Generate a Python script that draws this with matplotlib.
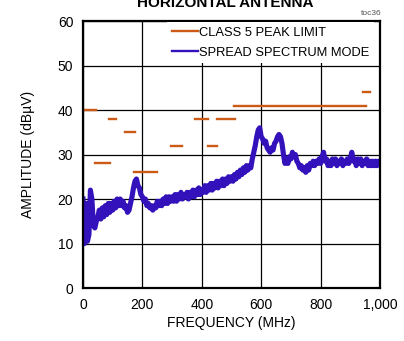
import matplotlib
matplotlib.use("Agg")
import matplotlib.pyplot as plt

# spread spectrum trace, read every 5 MHz from 0 to 1000
amp = [20, 10, 19, 10.5, 12, 22, 20, 14, 13.5, 15,
       16, 17.5, 15.5, 18, 16, 18.5, 16.5, 19, 17, 19, 17.5, 19.5, 18, 20, 18.5, 20, 18.5, 19.5, 18, 18.5,
       17, 17.5, 19, 20.5, 22.5, 24, 24.5, 23, 22.5, 21, 20.5, 19.5, 20, 18.5, 19, 18, 18.5, 17.5, 18.5, 18,
       19.5, 18.5, 19.5, 18.5, 20, 19, 20.5, 19, 20.5, 19.5, 20.5, 19.5, 21, 19.5, 21, 20, 21.5, 20, 21, 20.5,
       21.5, 20, 21.5, 20.5, 22, 20.5, 22, 21, 22.5, 21, 22, 21.5, 23, 21.5, 23, 22, 23.5, 22, 23.5, 22.5,
       24, 22.5, 24, 23, 24.5, 23, 24.5, 23.5, 25, 24, 25, 24, 25.5, 24.5, 26, 25, 26.5, 25.5, 27, 26,
       27.5, 26.5, 27.5, 27, 29, 30.5, 32, 34, 35.5, 36, 34, 33.5, 32.5, 33, 31.5, 31, 30.5, 31.5, 31, 32.5,
       33, 34, 34.5, 34, 32.5, 30, 28, 29, 28, 29.5,
       29, 30.5, 29.5, 30, 28.5, 28, 27, 27.5, 26.5, 27, 26, 27.5, 26.5, 28, 27.5, 28.5, 27.5, 28.5, 28, 29,
       28, 29.5, 30.5, 28.5, 29, 27.5, 28.5, 27.5, 29, 28, 29, 27.5, 28.5, 28, 29, 27.5, 28.5, 28, 29, 28,
       29, 30.5, 28.5, 29, 27.5, 29, 28, 29, 27.5, 28.5, 28, 29, 27.5, 28.5, 27.5, 28.5, 27.5, 28.5, 27.5, 28.5, 28]
freq = list(range(0, 1001, 5))

# class 5 peak limit segments
lim_start = [0.15, 0, 21, 40, 86, 140, 172, 298, 378, 420, 450, 510, 942]
lim_stop = [0.3, 12, 44, 90, 110, 176, 248, 332, 422, 452, 512, 952, 966]
lim_level = [46, 40, 40, 28, 38, 35, 26, 32, 38, 32, 38, 41, 44]

orange = "#CC5A16"
blue = "#3311BB"

plt.rcParams['font.family'] = ['Liberation Sans', 'DejaVu Sans']

fig = plt.figure(figsize=(4.04, 3.41), dpi=100)
ax = fig.add_axes([0.2054, 0.1554, 0.7352, 0.783])

for i in range(len(lim_level)):
    ax.plot([lim_start[i], lim_stop[i]], [lim_level[i], lim_level[i]], color=orange,
            lw=1.7, solid_capstyle='projecting', label="CLASS 5 PEAK LIMIT" if i == 0 else None)
ax.plot(freq, amp, color=blue, lw=3.7, label="SPREAD SPECTRUM MODE")

ax.set_xlim(0, 1000)
ax.set_ylim(0, 60)
ax.set_xticks([0, 200, 400, 600, 800, 1000])
ax.set_xticklabels(["0", "200", "400", "600", "800", "1,000"])
ax.set_yticks(range(0, 61, 10))
ax.tick_params(length=0, labelsize=10, pad=7)
ax.grid(True, color="black", lw=0.9)
ax.set_axisbelow(True)
for s in ax.spines.values():
    s.set_linewidth(1.6)

ax.set_xlabel("FREQUENCY (MHz)", fontsize=10, labelpad=3)
ax.set_ylabel("AMPLITUDE (dBµV)", fontsize=10, labelpad=16)

leg = ax.legend(loc="upper right", bbox_to_anchor=(0.985, 1.0), fontsize=9.3, frameon=True,
                facecolor="white", edgecolor="none", framealpha=1, handlelength=2.0,
                handletextpad=0.15, borderaxespad=0.1, borderpad=0.35, labelspacing=0.6)
leg.get_frame().set_boxstyle("square", pad=0)
for h in leg.get_lines():
    h.set_linewidth(1.7)

fig.text(0.557, 0.979, "HORIZONTAL ANTENNA", ha="center", va="baseline",
         fontsize=11, fontweight="bold")
fig.text(0.945, 0.955, "toc36", ha="right", va="baseline", fontsize=6, color="#555555")

fig.savefig("out.png", dpi=100)
